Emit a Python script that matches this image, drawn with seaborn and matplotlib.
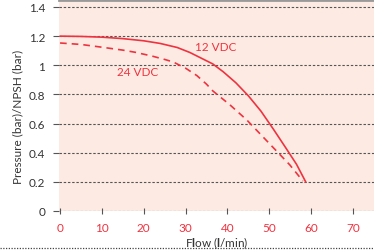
import pandas as pd
import matplotlib
matplotlib.use("Agg")
import matplotlib.pyplot as plt
from matplotlib.lines import Line2D
import seaborn as sns

# pump curves
flow_12v = [0, 5, 10, 15, 20, 23.9, 28, 31, 34, 36.5, 39, 42, 45, 48, 51, 54, 56.5, 58.7]
pres_12v = [1.20, 1.198, 1.193, 1.183, 1.168, 1.15, 1.122, 1.088, 1.045, 1.009,
            0.955, 0.88, 0.79, 0.685, 0.56, 0.43, 0.32, 0.199]
flow_24v = [0, 5, 10, 15, 18, 22, 25, 27, 30, 32.7, 35, 36.5, 40.6, 44.6, 50.1, 54.9, 58.0]
pres_24v = [1.153, 1.143, 1.124, 1.104, 1.089, 1.063, 1.04, 1.023, 0.98, 0.929,
            0.87, 0.824, 0.728, 0.625, 0.46, 0.316, 0.206]

x_ticks = [0, 10, 20, 30, 40, 50, 60, 70]
y_ticks = [0, 0.2, 0.4, 0.6, 0.8, 1, 1.2, 1.4]
y_tick_labels = ["0", "0.2", "0.4", "0.6", "0.8", "1", "1.2", "1.4"]

red = "#ee3340"
shade = "#fdebe3"
grid_col = "#555555"

df = pd.concat([
    pd.DataFrame({"Flow": flow_12v, "Pressure": pres_12v, "Supply": "12 VDC"}),
    pd.DataFrame({"Flow": flow_24v, "Pressure": pres_24v, "Supply": "24 VDC"}),
])

sns.set_theme(style="white")
plt.rcParams["font.family"] = ["Lato", "DejaVu Sans"]
plt.rcParams["mathtext.fontset"] = "custom"
plt.rcParams["mathtext.rm"] = "Lato"
plt.rcParams["mathtext.bf"] = "Lato:bold"

fig = plt.figure(figsize=(3.74, 2.53), dpi=100)
ax = fig.add_axes([59 / 374, 41 / 253, 315 / 374, 211 / 253])
ax.set_facecolor(shade)

sns.lineplot(data=df, x="Flow", y="Pressure", hue="Supply", style="Supply",
             palette={"12 VDC": red, "24 VDC": red},
             dashes={"12 VDC": "", "24 VDC": (4, 3)},
             linewidth=1.2, legend=False, ax=ax, sort=False, zorder=3)

ax.set_xlim(-0.25, 75)
ax.set_ylim(0, 1.448)
ax.set_xticks(x_ticks)
ax.set_yticks(y_ticks)
ax.set_yticklabels(y_tick_labels)

for y in y_ticks:
    ax.axhline(y, color=grid_col, linewidth=0.8, linestyle=(0, (2.2, 1.6)), zorder=2)

for side in ["left", "right", "bottom"]:
    ax.spines[side].set_visible(False)
ax.spines["top"].set_color("#999999")
ax.spines["top"].set_linewidth(2)

ax.tick_params(axis="y", length=4, width=0.8, color=grid_col, pad=6,
               labelsize=8.5, labelcolor="#333333", left=True)
ax.tick_params(axis="x", length=4, width=0.8, color=grid_col, direction="inout",
               pad=6, labelsize=8.5, labelcolor=red, bottom=True)

ax.set_xlabel(r"F$\mathbf{l}$ow ($\mathbf{l}$/min)", fontsize=8.5, color="#333333", labelpad=1)
ax.set_ylabel("")
fig.text(18 / 374, 1 - 117 / 253, "Pressure (bar)/NPSH (bar)", rotation=90,
         ha="center", va="center", fontsize=8.5, color="#333333")

ax.text(37.2, 1.129, "12 VDC", color=red, fontsize=8.5, ha="center", va="center")
ax.text(18.5, 0.954, "24 VDC", color=red, fontsize=8.5, ha="center", va="center")

fig.add_artist(Line2D([0, 1], [1 - 249 / 253, 1 - 249 / 253], transform=fig.transFigure,
                      color="#444444", linewidth=0.9, linestyle=(0, (1, 1.2))))

fig.savefig("out.png", dpi=100)
